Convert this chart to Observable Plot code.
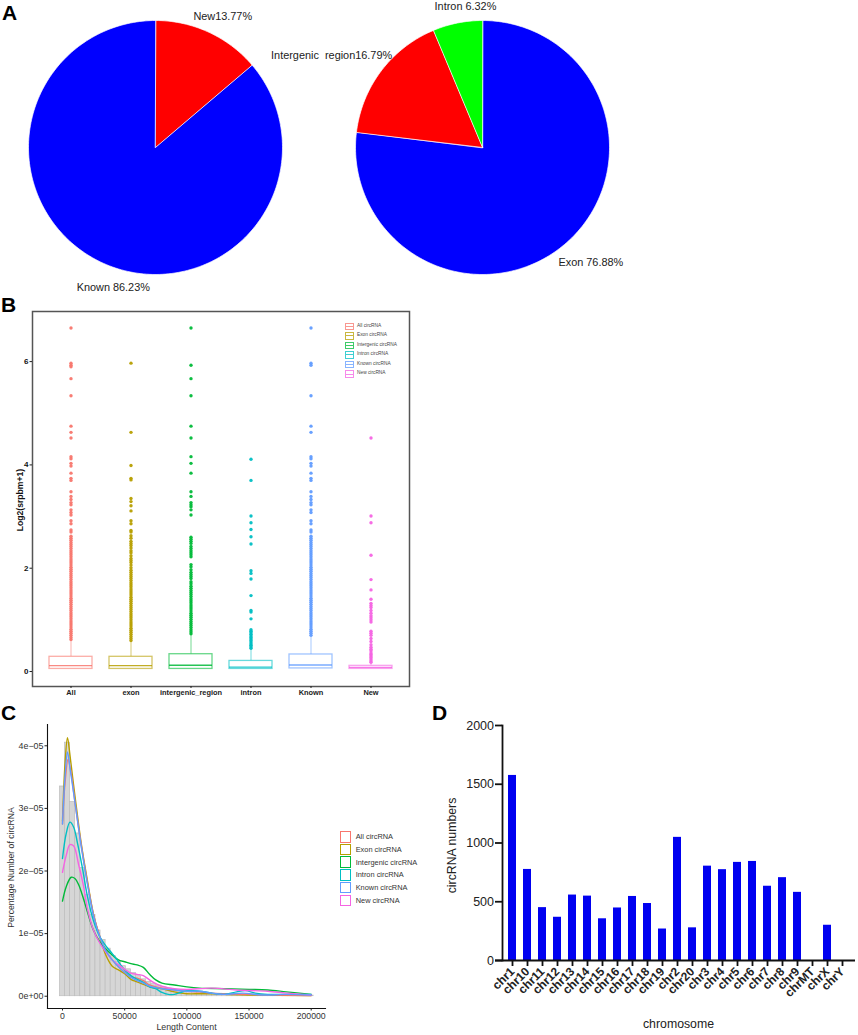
<!DOCTYPE html>
<html>
<head>
<meta charset="utf-8">
<script src="https://cdn.jsdelivr.net/npm/d3@7"></script>
<script src="https://cdn.jsdelivr.net/npm/@observablehq/plot@0.6"></script>
<style>
html,body{margin:0;padding:0;background:#fff;}
#page{position:relative;width:858px;height:1035px;overflow:hidden;font-family:"Liberation Sans",Arial,sans-serif;color:#222;}
#page>svg,#page>figure{position:absolute;margin:0;}
.letter{position:absolute;font-weight:bold;font-size:21px;color:#000;line-height:1;}
.legB{position:absolute;font-size:4.8px;color:#444;line-height:1;white-space:nowrap;}
.keyB{position:absolute;width:7px;height:5.5px;border:0.8px solid;opacity:.75;}
.keyB i{position:absolute;left:0;right:0;top:2.3px;border-top:0.8px solid;}
.legC{position:absolute;font-size:7.4px;color:#333;line-height:1;white-space:nowrap;}
.keyC{position:absolute;width:9.5px;height:9.5px;border:1.3px solid;}
</style>
</head>
<body>
<div id="page"></div>
<script>
// ---------- Panel A ----------
const pie1Names = ["New13.77%", "Known 86.23%"];
const pie1Values = [13.77, 86.23];
const pie1Colors = ["#ff0000", "#0000ff"];
const pie2Names = ["Exon 76.88%", "Intergenic\u00a0\u00a0region16.79%", "Intron 6.32%"];
const pie2Values = [76.88, 16.79, 6.32];
const pie2Colors = ["#0000ff", "#ff0000", "#00ff00"];

// ---------- Panel B ----------
const boxCategories = ["All", "exon", "intergenic_region", "intron", "Known", "New"];
const boxLegend = ["All circRNA", "Exon circRNA", "Intergenic circRNA", "Intron circRNA", "Known circRNA", "New circRNA"];
const hue = ["#F8766D", "#B79F00", "#00BA38", "#00BFC4", "#619CFF", "#F564E3"];
const q1 = [0.05, 0.05, 0.05, 0.05, 0.06, 0.05];
const median = [0.115, 0.115, 0.12, 0.085, 0.125, 0.08];
const q3 = [0.285, 0.285, 0.335, 0.205, 0.33, 0.11];
const whisker = [0.62, 0.60, 0.72, 0.44, 0.70, 0.17];
const outAll = [6.65,5.97,5.93,5.90,5.67,5.34,4.75,4.63,4.52,4.16,4.12,4.03,3.98,3.84,3.74,3.70,3.48,3.39,3.33,3.27,3.23,3.13,3.08,3.03,2.92,2.86,2.74,2.70,2.62,2.58,2.54,2.50,2.46,2.42,2.38,2.34,2.30,2.26,2.22,2.18,2.14,2.10,2.06,2.02,1.98,1.94,1.90,1.86,1.82,1.78,1.74,1.70,1.66,1.62,1.58,1.54,1.50,1.46,1.42,1.38,1.34,1.30,1.26,1.22,1.18,1.14,1.10,1.06,1.02,0.98,0.94,0.90,0.86,0.82,0.78,0.74,0.70,0.66,0.62];
const outExon = [5.97,4.63,3.99,3.74,3.71,3.35,3.29,3.21,3.11,2.92,2.86,2.73,2.70,2.63,2.58,2.52,2.48,2.44,2.39,2.34,2.30,2.24,2.19,2.15,2.11,2.06,2.01,1.96,1.92,1.88,1.84,1.80,1.76,1.72,1.68,1.64,1.60,1.56,1.52,1.48,1.44,1.40,1.36,1.32,1.28,1.24,1.20,1.16,1.12,1.08,1.04,1.00,0.96,0.92,0.88,0.84,0.80,0.76,0.72,0.68,0.64,0.60];
const outInter = [6.65,5.93,5.67,5.34,4.75,4.52,4.16,4.03,3.84,3.48,3.39,3.27,3.23,3.19,3.13,3.03,2.60,2.56,2.52,2.48,2.42,2.38,2.34,2.30,2.26,2.22,2.07,2.03,1.97,1.92,1.88,1.84,1.80,1.74,1.70,1.65,1.61,1.57,1.53,1.49,1.45,1.41,1.37,1.33,1.29,1.25,1.21,1.17,1.13,1.09,1.05,1.01,0.97,0.93,0.89,0.85,0.81,0.77,0.73];
const outIntron = [4.11,3.70,3.01,2.88,2.75,2.61,2.47,1.95,1.90,1.79,1.47,1.18,1.15,1.02,0.81,0.78,0.75,0.72,0.69,0.66,0.63,0.60,0.57,0.54,0.51,0.48,0.45];
const outKnown = [6.65,5.97,5.93,5.34,4.75,4.63,4.16,4.12,4.03,3.98,3.84,3.74,3.70,3.48,3.39,3.33,3.27,3.23,3.13,3.08,2.92,2.86,2.74,2.70,2.62,2.58,2.54,2.50,2.46,2.42,2.38,2.34,2.30,2.26,2.22,2.18,2.14,2.10,2.06,2.02,1.98,1.94,1.90,1.86,1.82,1.78,1.74,1.70,1.66,1.62,1.58,1.54,1.50,1.46,1.42,1.38,1.34,1.30,1.26,1.22,1.18,1.14,1.10,1.06,1.02,0.98,0.94,0.90,0.86,0.82,0.78,0.74,0.70];
const outNew = [4.52,3.01,2.88,2.25,1.78,1.58,1.40,1.32,1.28,1.24,1.18,1.13,1.08,1.04,1.00,0.96,0.78,0.74,0.70,0.64,0.58,0.52,0.47,0.43,0.40,0.36,0.33,0.30,0.27,0.24,0.21,0.18];

// ---------- Panel C ----------
const histHeights = [3.35,4.05,3.10,2.60,2.05,1.62,1.30,1.05,0.90,0.76,0.64,0.55,0.48,0.43,0.37,0.32,0.27,0.23,0.20,0.17,0.14,0.12,0.10,0.085,0.075,0.065,0.06,0.055,0.05,0.045,0.04,0.04,0.035,0.03,0.03,0.03,0.025,0.02,0.02,0.02,0.02,0.02,0.015,0.015,0.015,0.012,0.012,0.012,0.01,0.01];
const histBinWidth = 4.08;
const lenExon = [0,2,4,6,10,15,20,25,30,35,40,45,50,55,60,65,70,75,80,90,100,110,120,130,150,200];
const denExon = [2.8,3.7,4.13,3.85,3.2,2.45,1.85,1.3,0.95,0.65,0.48,0.42,0.36,0.27,0.23,0.19,0.15,0.13,0.12,0.07,0.04,0.04,0.04,0.03,0.02,0.01];
const lenKnown = [0,2,4,6,10,15,20,25,30,35,40,45,50,55,60,65,70,75,80,90,100,110,120,130,145,160,180,200];
const denKnown = [2.75,3.5,3.9,3.65,3.1,2.4,1.8,1.28,0.95,0.72,0.58,0.47,0.38,0.30,0.25,0.21,0.16,0.14,0.12,0.10,0.08,0.08,0.05,0.03,0.05,0.02,0.03,0.02];
const lenAll = [0,2,4.5,7,10,15,20,25,30,35,40,45,50,55,60,65,70,75,80,90,100,110,120,130,150,200];
const denAll = [2.75,3.4,3.78,3.55,3.1,2.42,1.82,1.3,0.96,0.72,0.58,0.47,0.38,0.31,0.29,0.25,0.18,0.15,0.13,0.10,0.08,0.07,0.05,0.04,0.03,0.01];
const lenIntron = [0,3,6,9,12,16,20,25,30,35,40,45,50,55,60,65,70,75,80,85,90,95,100,110,120,130,140,147,155,165,180,200];
const denIntron = [2.2,2.6,2.78,2.7,2.45,2.05,1.6,1.2,0.95,0.8,0.68,0.55,0.42,0.33,0.27,0.22,0.15,0.12,0.06,0.03,0.03,0.06,0.09,0.08,0.05,0.03,0.07,0.09,0.05,0.03,0.03,0.03];
const lenNew = [0,3,6,9,13,17,20,25,30,35,40,45,50,55,60,65,70,75,80,90,100,120,140,165,180,200];
const denNew = [1.98,2.25,2.42,2.4,2.1,1.75,1.4,1.05,0.85,0.7,0.58,0.5,0.43,0.37,0.35,0.33,0.26,0.2,0.16,0.12,0.11,0.13,0.1,0.08,0.05,0.02];
const lenInter = [0,3,7,10,13,17,20,25,30,35,40,45,50,55,60,65,70,75,80,90,100,110,130,150,165,180,200];
const denInter = [1.52,1.75,1.9,1.88,1.78,1.55,1.35,1.05,0.87,0.75,0.66,0.58,0.55,0.52,0.5,0.46,0.35,0.26,0.21,0.18,0.15,0.13,0.12,0.11,0.1,0.07,0.03];

// ---------- Panel D ----------
const chromosomes = ["chr1","chr10","chr11","chr12","chr13","chr14","chr15","chr16","chr17","chr18","chr19","chr2","chr20","chr3","chr4","chr5","chr6","chr7","chr8","chr9","chrMT","chrX","chrY"];
const circCounts = [1575,775,450,368,557,548,355,447,545,485,268,1048,278,803,773,835,843,632,705,580,0,300,0];

const page = document.getElementById("page");
function place(el, left, top) {
  el.style.position = "absolute";
  el.style.left = left + "px";
  el.style.top = top + "px";
  el.style.background = "transparent";
  page.appendChild(el);
}
function html(cls, left, top, text) {
  const d = document.createElement("div");
  d.className = cls;
  d.style.left = left + "px";
  d.style.top = top + "px";
  if (text) d.textContent = text;
  page.appendChild(d);
  return d;
}

// ---------- A: two pies, drawn as filled lines on shared scales ----------
const pieGap = 2.575;
function wedges(names, values, colors, cx) {
  const arcs = d3.pie().sort(null)(values);
  return arcs.map((a, i) => {
    const n = Math.max(2, Math.ceil((a.endAngle - a.startAngle) * 40));
    const pts = [{x: cx, y: 0, name: names[i]}];
    for (let k = 0; k <= n; k++) {
      const t = a.startAngle + (a.endAngle - a.startAngle) * k / n;
      pts.push({x: cx + Math.sin(t), y: Math.cos(t), name: names[i]});
    }
    const mid = (a.startAngle + a.endAngle) / 2;
    return {name: names[i], color: colors[i], pts, mx: cx + Math.sin(mid), my: Math.cos(mid)};
  });
}
const pieWedges = [...wedges(pie1Names, pie1Values, pie1Colors, 0), ...wedges(pie2Names, pie2Values, pie2Colors, pieGap)];
const labelShift = {
  [pie1Names[0]]: [14, -16], [pie1Names[1]]: [11, 25],
  [pie2Names[0]]: [24, 20], [pie2Names[1]]: [-49.5, -16], [pie2Names[2]]: [8, -16.5]
};
place(Plot.plot({
  width: 858, height: 295, margin: 0,
  x: {domain: [-155 / 127, 703 / 127], range: [0, 858], axis: null},
  y: {domain: [147 / 127, -148 / 127], range: [0, 295], axis: null},
  marks: [
    ...pieWedges.map(w => Plot.line(w.pts, {x: "x", y: "y", fill: w.color, stroke: "#fff", strokeWidth: 0.7, curve: "linear-closed"})),
    ...pieWedges.map(w => Plot.text([w], {x: "mx", y: "my", text: "name", dx: labelShift[w.name][0], dy: labelShift[w.name][1],
      fontSize: 10.9, fill: "#222", fontFamily: "Liberation Sans"}))
  ]
}), 0, 0);

// ---------- B: box plots ----------
const boxes = boxCategories.map((c, i) => ({cat: c, q1: q1[i], med: median[i], q3: q3[i], wh: whisker[i], color: hue[i]}));
const outlierLists = [outAll, outExon, outInter, outIntron, outKnown, outNew];
const outliers = outlierLists.flatMap((l, i) => l.map(v => ({cat: boxCategories[i], v, color: hue[i]})));
place(Plot.plot({
  width: 420, height: 420, marginLeft: 32, marginRight: 11, marginTop: 16, marginBottom: 29,
  style: {fontFamily: "Liberation Sans"},
  x: {domain: boxCategories, range: [38.7, 402.9], paddingInner: 0.29, paddingOuter: 0.145, label: null},
  y: {domain: [-0.29, 6.97], label: null},
  marks: [
    Plot.frame({stroke: "#555", strokeWidth: 1.5}),
    Plot.ruleX(boxes, {x: "cat", y1: "q3", y2: "wh", stroke: "color", strokeOpacity: 0.55, strokeWidth: 1}),
    Plot.barY(boxes, {x: "cat", y1: "q1", y2: "q3", fill: "#fff", stroke: "color", strokeOpacity: 0.6, strokeWidth: 1.3}),
    Plot.tickY(boxes, {x: "cat", y: "med", stroke: "color", strokeOpacity: 0.85, strokeWidth: 1.4}),
    Plot.dot(outliers, {x: "cat", y: "v", r: 1.7, fill: "color", stroke: "none", fillOpacity: 0.95}),
    Plot.axisY({ticks: [0, 2, 4, 6], tickSize: 2.5, tickPadding: 1.5, fontSize: 8, fontWeight: "bold", fill: "#111", label: null}),
    Plot.axisX({tickSize: 2, tickPadding: 1.5, fontSize: 7.4, fontWeight: "bold", fill: "#222", label: null}),
    Plot.text(["Log2(srpbm+1)"], {frameAnchor: "left", textAnchor: "middle", dx: -12, dy: 500 - (311 + 687) / 2, rotate: -90, fontSize: 8.6, fontWeight: "bold", fill: "#111"})
  ]
}), 0, 295);
boxLegend.forEach((t, i) => {
  const y = 322.5 + i * 9.55;
  const k = html("keyB", 345, y);
  k.style.borderColor = hue[i];
  const bar = document.createElement("i");
  bar.style.borderColor = hue[i];
  k.appendChild(bar);
  html("legB", 357, y + 1, t);
});

// ---------- C: histogram and density curves ----------
const hist = histHeights.map((h, i) => ({x1: (i - 0.5) * histBinWidth, x2: (i + 0.5) * histBinWidth, h}));
const toSeries = (name, xs, ys) => xs.map((x, i) => ({name, x, y: ys[i]}));
const curves = [
  toSeries(boxLegend[1], lenExon, denExon),
  toSeries(boxLegend[0], lenAll, denAll),
  toSeries(boxLegend[2], lenInter, denInter),
  toSeries(boxLegend[3], lenIntron, denIntron),
  toSeries(boxLegend[5], lenNew, denNew),
  toSeries(boxLegend[4], lenKnown, denKnown)
];
place(Plot.plot({
  width: 430, height: 320, marginLeft: 47, marginRight: 105, marginTop: 9, marginBottom: 27,
  style: {fontFamily: "Liberation Sans"},
  x: {domain: [-12.06, 211.5], label: null},
  y: {domain: [-0.196, 4.34], label: null},
  color: {domain: boxLegend, range: hue},
  marks: [
    Plot.rectY(hist, {x1: "x1", x2: "x2", y1: 0, y2: "h", fill: "#d6d6d6", stroke: "#bdbdbd", strokeWidth: 0.7}),
    ...curves.map(c => Plot.line(c, {x: "x", y: "y", stroke: "name", strokeWidth: 1.4, curve: "catmull-rom"})),
    Plot.frame({anchor: "left", stroke: "#111", strokeWidth: 1.1}),
    Plot.frame({anchor: "bottom", stroke: "#111", strokeWidth: 1.1}),
    Plot.axisY({ticks: [0, 1, 2, 3, 4], tickFormat: d => d === 0 ? "0e+00" : d + "e\u221205", tickSize: 2.5, tickPadding: 1.5, fontSize: 8.9, fill: "#333", label: null}),
    Plot.axisX({ticks: [0, 50, 100, 150, 200], tickFormat: d => String(d * 1000), tickSize: 2.5, tickPadding: 1.5, fontSize: 8.7, fill: "#333", label: null}),
    Plot.text(["Length Content"], {frameAnchor: "bottom", dx: 186 - (47 + 325) / 2, dy: 21, fontSize: 8.8, fill: "#333"}),
    Plot.text(["Percentage Number of circRNA"], {frameAnchor: "left", textAnchor: "middle", dx: -36, dy: 867 - (724 + 1008) / 2, rotate: -90, fontSize: 8.6, fill: "#333"})
  ]
}), 0, 715);
boxLegend.forEach((t, i) => {
  const y = 831 + i * 12.7;
  const k = html("keyC", 339.5, y);
  k.style.borderColor = hue[i];
  html("legC", 355.7, y + 2.3, t);
});

// ---------- D: bars ----------
const counts = chromosomes.map((c, i) => ({c, v: circCounts[i]}));
place(Plot.plot({
  width: 418, height: 320, marginLeft: 62, marginRight: 3, marginTop: 10, marginBottom: 75,
  style: {fontFamily: "Liberation Sans"},
  x: {domain: chromosomes, range: [65.3, 408.1], paddingInner: 0.5, paddingOuter: 0, label: null},
  y: {domain: [0, 2000], label: null},
  marks: [
    Plot.barY(counts, {x: "c", y: "v", fill: "#0000f0"}),
    Plot.ruleY([0], {stroke: "#111", strokeWidth: 1.8, insetLeft: -7}),
    Plot.frame({anchor: "left", stroke: "#111", strokeWidth: 1.8}),
    Plot.axisY({ticks: [0, 500, 1000, 1500, 2000], tickFormat: d => String(d), tickSize: 7, tickPadding: 1.5, strokeWidth: 1.8, stroke: "#111", fontSize: 12.5, fill: "#222", label: null}),
    Plot.axisX({tickSize: 6, tickPadding: 3, tickRotate: -45, strokeWidth: 1.8, stroke: "#111", fontSize: 12, fontWeight: "bold", fill: "#222", label: null}),
    Plot.text(["chromosome"], {frameAnchor: "bottom", dx: 678 - (502 + 855) / 2, dy: 67, fontSize: 12.3, fill: "#222"}),
    Plot.text(["circRNA numbers"], {frameAnchor: "left", textAnchor: "middle", dx: -50, dy: 845 - (725 + 960) / 2, rotate: -90, fontSize: 12.3, fill: "#222"})
  ]
}), 440, 715);

// ---------- panel letters ----------
html("letter", 2, 2, "A");
html("letter", 1, 294, "B");
html("letter", 1, 702, "C");
html("letter", 432, 702, "D");
</script>
</body>
</html>
